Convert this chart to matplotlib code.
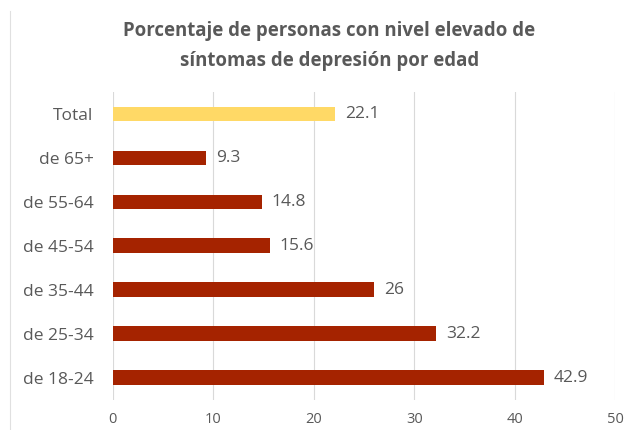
import matplotlib
matplotlib.use("Agg")
import matplotlib.pyplot as plt

categories = ["de 18-24", "de 25-34", "de 35-44", "de 45-54", "de 55-64", "de 65+", "Total"]
values = [42.9, 32.2, 26, 15.6, 14.8, 9.3, 22.1]
labels = ["42.9", "32.2", "26", "15.6", "14.8", "9.3", "22.1"]
xticks = [0, 10, 20, 30, 40, 50]

plt.rcParams['font.family'] = ['Open Sans', 'DejaVu Sans']
gray = "#595959"

fig = plt.figure(figsize=(6.27, 4.30), dpi=100)
ax = fig.add_axes([0.180, 0.070, 0.801, 0.716])
colors = ["#A52300"] * 6 + ["#FFD966"]
y = list(range(len(categories)))
ax.barh(y, values, height=0.34, color=colors, zorder=3)
for yi, v, lab in zip(y, values, labels):
    ax.text(v + 1.0, yi, lab, va="center", ha="left", fontsize=12.5, color=gray)
ax.set_yticks(y)
ax.set_yticklabels(categories, fontsize=12.5, color=gray)
ax.set_xticks(xticks)
ax.set_xticklabels([str(t) for t in xticks], fontsize=10.5, color=gray)
ax.set_xlim(0, 50)
ax.set_ylim(-0.5, 6.5)
ax.grid(axis="x", color="#D9D9D9", linewidth=0.8, zorder=0)
for s in ax.spines.values():
    s.set_visible(False)
ax.tick_params(axis="both", length=0)
ax.tick_params(axis="y", pad=14)
ax.tick_params(axis="x", pad=9)
fig.text(0.525, 0.893, "Porcentaje de personas con nivel elevado de\nsíntomas de depresión por edad",
         ha="center", va="center", fontsize=13.4, fontweight="bold", color=gray, linespacing=1.65)
fig.add_artist(plt.Line2D([0.016, 0.016], [0.0, 0.975], color="#E0E0E0", linewidth=0.8))
fig.savefig("out.png", dpi=100, facecolor="white")
